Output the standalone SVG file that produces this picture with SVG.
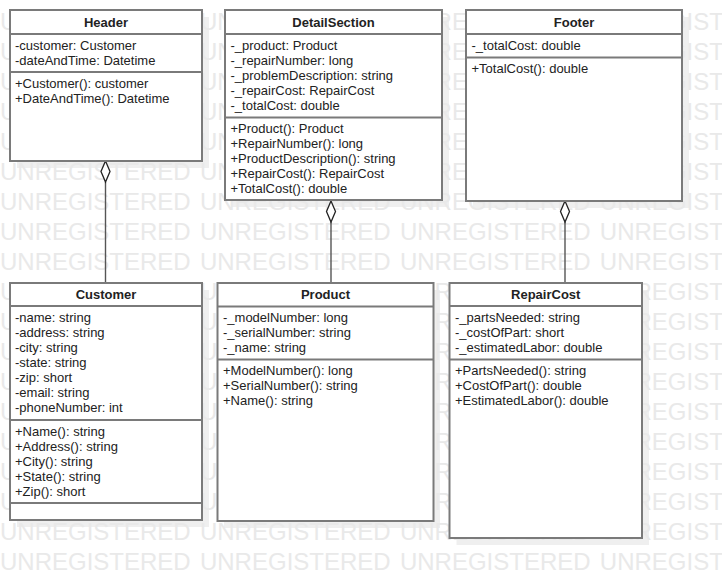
<svg xmlns="http://www.w3.org/2000/svg" width="722" height="578" viewBox="0 0 722 578">
<style>
.wm{font-family:"Liberation Sans",Arial,sans-serif;font-size:24px;fill:#e9e9e9;word-spacing:2.6px}
.sh{fill:#efefef}
.box{fill:#fff;stroke:#7a7a7a;stroke-width:2}
.sep{stroke:#7a7a7a;stroke-width:2}
.t{font-family:"Liberation Sans",Arial,sans-serif;font-size:13px;fill:#222}
.ti{font-family:"Liberation Sans",Arial,sans-serif;font-size:13px;font-weight:bold;fill:#222;text-anchor:middle}
.ln{stroke:#555;stroke-width:1.4;fill:none}
.dm{stroke:#222;stroke-width:1.3;fill:#fff}
</style>
<rect width="722" height="578" fill="#fff"/>
<g id="shadows">
<rect class="sh" x="17" y="17" width="192" height="151"/>
<rect class="sh" x="232" y="17" width="217" height="190"/>
<rect class="sh" x="473" y="17" width="216" height="191"/>
<rect class="sh" x="17" y="290" width="192" height="237"/>
<rect class="sh" x="224" y="290" width="216" height="238"/>
<rect class="sh" x="456.5" y="290" width="192.5" height="255"/>
</g>
<g id="watermark">
<text class="wm" x="0" y="30">UNREGISTERED UNREGISTERED UNREGISTERED UNREGISTERED</text>
<text class="wm" x="0" y="60">UNREGISTERED UNREGISTERED UNREGISTERED UNREGISTERED</text>
<text class="wm" x="0" y="90">UNREGISTERED UNREGISTERED UNREGISTERED UNREGISTERED</text>
<text class="wm" x="0" y="120">UNREGISTERED UNREGISTERED UNREGISTERED UNREGISTERED</text>
<text class="wm" x="0" y="150">UNREGISTERED UNREGISTERED UNREGISTERED UNREGISTERED</text>
<text class="wm" x="0" y="180">UNREGISTERED UNREGISTERED UNREGISTERED UNREGISTERED</text>
<text class="wm" x="0" y="210">UNREGISTERED UNREGISTERED UNREGISTERED UNREGISTERED</text>
<text class="wm" x="0" y="240">UNREGISTERED UNREGISTERED UNREGISTERED UNREGISTERED</text>
<text class="wm" x="0" y="270">UNREGISTERED UNREGISTERED UNREGISTERED UNREGISTERED</text>
<text class="wm" x="0" y="300">UNREGISTERED UNREGISTERED UNREGISTERED UNREGISTERED</text>
<text class="wm" x="0" y="330">UNREGISTERED UNREGISTERED UNREGISTERED UNREGISTERED</text>
<text class="wm" x="0" y="360">UNREGISTERED UNREGISTERED UNREGISTERED UNREGISTERED</text>
<text class="wm" x="0" y="390">UNREGISTERED UNREGISTERED UNREGISTERED UNREGISTERED</text>
<text class="wm" x="0" y="420">UNREGISTERED UNREGISTERED UNREGISTERED UNREGISTERED</text>
<text class="wm" x="0" y="450">UNREGISTERED UNREGISTERED UNREGISTERED UNREGISTERED</text>
<text class="wm" x="0" y="480">UNREGISTERED UNREGISTERED UNREGISTERED UNREGISTERED</text>
<text class="wm" x="0" y="510">UNREGISTERED UNREGISTERED UNREGISTERED UNREGISTERED</text>
<text class="wm" x="0" y="540">UNREGISTERED UNREGISTERED UNREGISTERED UNREGISTERED</text>
<text class="wm" x="0" y="570">UNREGISTERED UNREGISTERED UNREGISTERED UNREGISTERED</text>
</g>
<g id="connectors">
<line class="ln" x1="105.5" y1="182" x2="105.5" y2="283"/>
<polygon class="dm" points="105.5,161 110,171.5 105.5,182 101,171.5"/>
<line class="ln" x1="331" y1="222" x2="331" y2="283"/>
<polygon class="dm" points="331,201 335.5,211.5 331,222 326.5,211.5"/>
<line class="ln" x1="565" y1="222" x2="565" y2="283"/>
<polygon class="dm" points="565,201 569.5,211.5 565,222 560.5,211.5"/>
</g>
<g id="Header">
<rect class="box" x="10" y="10" width="192" height="151"/>
<line class="sep" x1="10" y1="34" x2="202" y2="34"/>
<line class="sep" x1="10" y1="72" x2="202" y2="72"/>
<text class="ti" x="106" y="27">Header</text>
<text class="t" x="15" y="50">-customer: Customer</text>
<text class="t" x="15" y="65">-dateAndTime: Datetime</text>
<text class="t" x="15" y="88">+Customer(): customer</text>
<text class="t" x="15" y="103">+DateAndTime(): Datetime</text>
</g>
<g id="DetailSection">
<rect class="box" x="225" y="10" width="217" height="190"/>
<line class="sep" x1="225" y1="34" x2="442" y2="34"/>
<line class="sep" x1="225" y1="117.5" x2="442" y2="117.5"/>
<text class="ti" x="333.5" y="27">DetailSection</text>
<text class="t" x="230.5" y="50">-_product: Product</text>
<text class="t" x="230.5" y="65">-_repairNumber: long</text>
<text class="t" x="230.5" y="80">-_problemDescription: string</text>
<text class="t" x="230.5" y="95">-_repairCost: RepairCost</text>
<text class="t" x="230.5" y="110">-_totalCost: double</text>
<text class="t" x="230.5" y="133">+Product(): Product</text>
<text class="t" x="230.5" y="148">+RepairNumber(): long</text>
<text class="t" x="230.5" y="163">+ProductDescription(): string</text>
<text class="t" x="230.5" y="178">+RepairCost(): RepairCost</text>
<text class="t" x="230.5" y="193">+TotalCost(): double</text>
</g>
<g id="Footer">
<rect class="box" x="466" y="10" width="216" height="191"/>
<line class="sep" x1="466" y1="34" x2="682" y2="34"/>
<line class="sep" x1="466" y1="57.5" x2="682" y2="57.5"/>
<text class="ti" x="574" y="27">Footer</text>
<text class="t" x="471.5" y="50">-_totalCost: double</text>
<text class="t" x="471.5" y="73">+TotalCost(): double</text>
</g>
<g id="Customer">
<rect class="box" x="10" y="283" width="192" height="237"/>
<line class="sep" x1="10" y1="306" x2="202" y2="306"/>
<line class="sep" x1="10" y1="420" x2="202" y2="420"/>
<line class="sep" x1="10" y1="503" x2="202" y2="503"/>
<text class="ti" x="106" y="299">Customer</text>
<text class="t" x="15" y="322">-name: string</text>
<text class="t" x="15" y="337">-address: string</text>
<text class="t" x="15" y="352">-city: string</text>
<text class="t" x="15" y="367">-state: string</text>
<text class="t" x="15" y="382">-zip: short</text>
<text class="t" x="15" y="397">-email: string</text>
<text class="t" x="15" y="412">-phoneNumber: int</text>
<text class="t" x="15" y="435.5">+Name(): string</text>
<text class="t" x="15" y="450.5">+Address(): string</text>
<text class="t" x="15" y="465.5">+City(): string</text>
<text class="t" x="15" y="480.5">+State(): string</text>
<text class="t" x="15" y="495.5">+Zip(): short</text>
</g>
<g id="Product">
<rect class="box" x="217.5" y="283" width="216" height="238"/>
<line class="sep" x1="217.5" y1="306.5" x2="433.5" y2="306.5"/>
<line class="sep" x1="217.5" y1="359.5" x2="433.5" y2="359.5"/>
<text class="ti" x="325.5" y="299">Product</text>
<text class="t" x="223" y="322">-_modelNumber: long</text>
<text class="t" x="223" y="337">-_serialNumber: string</text>
<text class="t" x="223" y="352">-_name: string</text>
<text class="t" x="223" y="375">+ModelNumber(): long</text>
<text class="t" x="223" y="390">+SerialNumber(): string</text>
<text class="t" x="223" y="405">+Name(): string</text>
</g>
<g id="RepairCost">
<rect class="box" x="449.5" y="283" width="192.5" height="255"/>
<line class="sep" x1="449.5" y1="306" x2="642" y2="306"/>
<line class="sep" x1="449.5" y1="359.5" x2="642" y2="359.5"/>
<text class="ti" x="545.75" y="299">RepairCost</text>
<text class="t" x="455" y="322">-_partsNeeded: string</text>
<text class="t" x="455" y="337">-_costOfPart: short</text>
<text class="t" x="455" y="352">-_estimatedLabor: double</text>
<text class="t" x="455" y="375">+PartsNeeded(): string</text>
<text class="t" x="455" y="390">+CostOfPart(): double</text>
<text class="t" x="455" y="405">+EstimatedLabor(): double</text>
</g>
</svg>
